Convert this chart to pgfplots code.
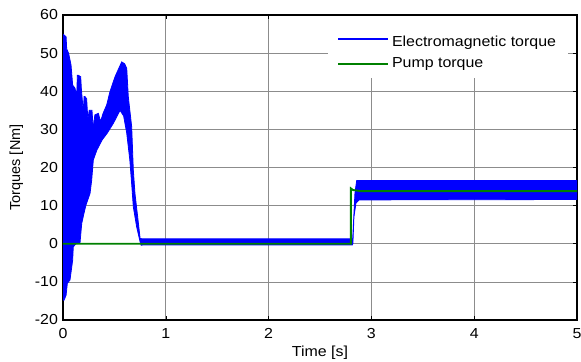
\documentclass[border=0pt]{standalone}
\usepackage{pgfplots}
\pgfplotsset{compat=1.18}
\usepackage{fontspec}
\setmainfont[FakeStretch=1.1]{Liberation Sans}
\newfontfamily\ylfont{Liberation Sans}
\definecolor{mgreen}{RGB}{0,128,0}
\definecolor{mblue}{RGB}{0,0,255}
\begin{document}
\fontsize{14.5bp}{17bp}\selectfont
\begin{tikzpicture}
\useasboundingbox (-63bp,-42bp) rectangle (518bp,320bp);
\begin{axis}[
  scale only axis,
  width=514bp, height=305bp,
  xmin=0, xmax=5, ymin=-20, ymax=60,
  xtick={0,1,2,3,4,5},
  ytick={-20,-10,0,10,20,30,40,50,60},
  /pgf/number format/assume math mode=true,
  grid=major,
  major grid style={black!45, line width=0.7bp},
  tick align=inside,
  major tick length=4bp,
  every tick/.style={black, line width=0.6bp},
  axis line style={black, line width=1.1bp},
  xticklabel style={yshift=-3bp},
  every axis y label/.style={at={(axis description cs:0,0.5)}, xshift=-46.5bp, rotate=90, anchor=center, font=\ylfont},
  every axis x label/.style={at={(axis description cs:0.5,0)}, yshift=-33bp, anchor=center},
  xlabel={Time [s]},
  ylabel={Torques [Nm]},
  legend cell align=left,
  legend style={at={(rel axis cs:0.5156,0.997)}, anchor=north west, draw=none, fill=white,
    inner xsep=9bp, inner ysep=6.5bp, row sep=7bp,
    nodes={inner xsep=3bp, inner ysep=0bp, text height=10.5bp, text depth=3.5bp}},
]
\addplot[forget plot, draw=mblue, fill=mblue, line width=0.8bp] coordinates {
(0.000,53) (0.003,54.9) (0.030,54.3) (0.036,51) (0.042,50.8) (0.055,49.9)
(0.068,48.2) (0.078,46.9) (0.094,41.6) (0.117,40.8) (0.133,38.6) (0.140,44.2)
(0.149,44.2) (0.160,44.0) (0.172,43.8) (0.180,40) (0.185,38.6) (0.198,34.2)
(0.205,38.6) (0.214,38.6) (0.230,38.0) (0.240,33.3) (0.246,33.3) (0.255,35)
(0.282,35) (0.290,31.6) (0.300,31.6) (0.310,33.8) (0.344,34.2) (0.360,32.5)
(0.370,32.5) (0.390,34.2) (0.425,36.4) (0.457,39.9) (0.506,43.8) (0.571,47.7)
(0.600,47.2) (0.620,46) (0.635,38.6) (0.668,30.7) (0.684,19.3) (0.700,13.2)
(0.730,6.2) (0.750,1.4) (0.770,1.3) (2.818,1.3) (2.840,13.3) (2.857,16.6)
(5,16.6)
(5,11.6) (2.880,11.5) (2.850,10.7) (2.830,7) (2.820,0) (2.815,-0.3)
(0.780,-0.3) (0.760,-0.4) (0.750,0.5) (0.716,4.5) (0.684,9.7) (0.670,15)
(0.650,22) (0.620,29) (0.590,33.5) (0.555,35) (0.490,31.6) (0.430,29)
(0.380,27.2) (0.330,24.6) (0.295,22) (0.279,16.7) (0.263,13.2) (0.224,10.2)
(0.204,8) (0.182,5.3) (0.165,0.1) (0.126,0) (0.100,-0.8) (0.094,-4.3)
(0.068,-9.5) (0.042,-10.4) (0.030,-13.5) (0.010,-14.8) (0.000,-14.8)
} -- cycle;
\addplot[forget plot, mgreen, line width=1.9bp] coordinates {
(0,0) (2.800,0) (2.801,14.5) (2.820,14.1) (2.900,13.8) (5,13.8)
};
\addlegendimage{legend image code/.code={\draw[mblue, line width=1.8bp] (0bp,-3bp) -- (50bp,-3bp);}}
\addlegendentry[text height=24bp]{Electromagnetic torque}
\addlegendimage{legend image code/.code={\draw[mgreen, line width=1.8bp] (0bp,0bp) -- (50bp,0bp);}}
\addlegendentry{Pump torque}
\end{axis}
\end{tikzpicture}
\end{document}
